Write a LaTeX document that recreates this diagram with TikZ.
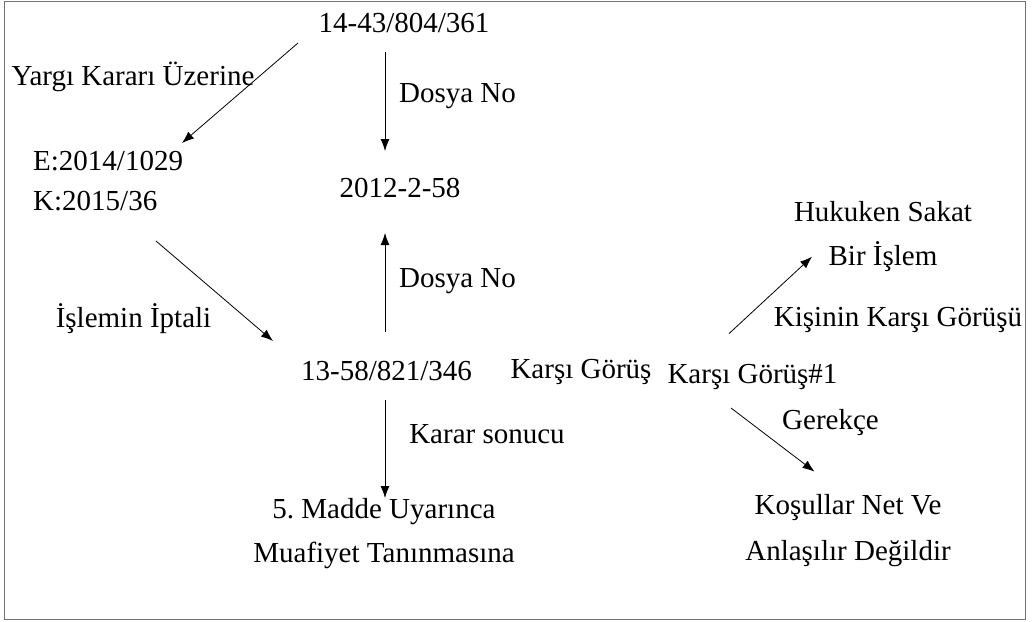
\documentclass[tikz,border=0pt]{standalone}
\usepackage{fontspec}
\setmainfont{Liberation Serif}
\usepackage{tikz}
\usetikzlibrary{arrows.meta,positioning,shapes}
\frenchspacing

\begin{document}
\begin{tikzpicture}[x=1pt,y=-1pt,
            txt/.style={font=\fontsize{29}{44}\selectfont,inner sep=2pt,anchor=base},
            item/.style={txt,align=center},
            lab/.style={txt},
            link/.style={draw,->,line width=.8pt,>={Latex[length=12pt,width=9pt]}}
          ]
          \useasboundingbox (0,0) rectangle (1032,621);
          \draw[black!55,line width=1pt] (4.5,1) rectangle (1025,619.5);

          \node[item] (k1443) at (404,32) {14-43/804/361};
          \node[item] (k2012) at (400,197) {2012-2-58};
          \node[item] (k1358) at (386.5,380) {13-58/821/346};
          \node[txt,align=left,anchor=base west] (ek) at (31,210) {E:2014/1029\\[-4pt]K:2015/36};
          \node[item] (madde) at (384,562) {5. Madde Uyarınca\\Muafiyet Tanınmasına};
          \node[item] (gor) at (752.5,383.6) {Karşı Görüş\#1};
          \node[item] (sakat) at (883,265) {Hukuken Sakat\\Bir İşlem};
          \node[item] (kosul) at (848,560) {Koşullar Net Ve\\[2pt]Anlaşılır Değildir};

          %labels
          \node[lab] (lyargi) at (133,85) {Yargı Kararı Üzerine};
          \node[lab] (ldosya1) at (457.5,102) {Dosya No};
          \node[lab] (ldosya2) at (457.5,287) {Dosya No};
          \node[lab] (liptal) at (133.5,327) {İşlemin İptali};
          \node[lab] (lkarar) at (487,443) {Karar sonucu};
          \node[lab] (lkarsi) at (581,378) {Karşı Görüş};
          \node[lab] (lkisi) at (898,326.7) {Kişinin Karşı Görüşü};
          \node[lab] (lgerekce) at (830.5,429) {Gerekçe};

          %links
          \path
          ([shift={(-106,11)}]k1443.base) edge[link] ([shift={(151,-67)}]ek.base west)
          ([shift={(-19,20)}]k1443.base) edge[link] ([shift={(-15,-46)}]k2012.base)
          ([shift={(-1.5,-48)}]k1358.base) edge[link] ([shift={(-15,36)}]k2012.base)
          ([shift={(125,31)}]ek.base west) edge[link] ([shift={(-113.5,-39)}]k1358.base)
          ([shift={(-1.5,20)}]k1358.base) edge[link] ([shift={(1,-64)}]madde.base)
          ([shift={(-23.5,-50)}]gor.base) edge[link] ([shift={(-71,-8.3)}]sakat.base)
          ([shift={(-21.5,24.4)}]gor.base) edge[link] ([shift={(-33.5,-88.4)}]kosul.base)
          ;
\end{tikzpicture}
\end{document}
